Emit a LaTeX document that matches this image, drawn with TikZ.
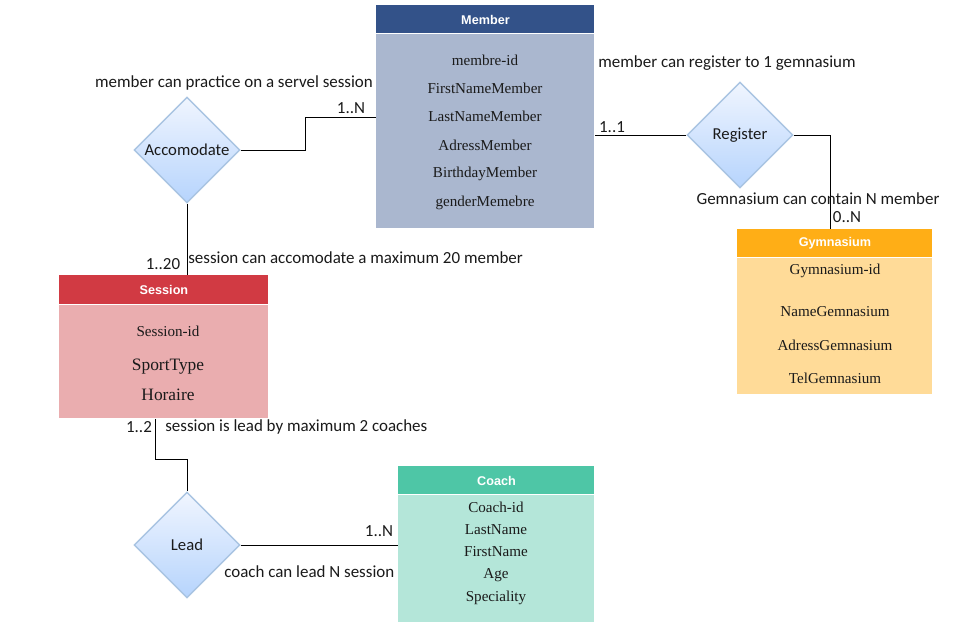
\documentclass[tikz,border=0pt]{standalone}
\usepackage{fontspec}
\setmainfont{Liberation Serif}
\newfontfamily\calibri{Carlito}
\newfontfamily\arial{Liberation Sans}
\usetikzlibrary{shapes.geometric,positioning,calc}

\definecolor{memberhead}{HTML}{335289}
\definecolor{memberbody}{HTML}{AAB7CF}
\definecolor{gymhead}{HTML}{FFAE16}
\definecolor{gymbody}{HTML}{FFDB98}
\definecolor{sessionhead}{HTML}{D13A43}
\definecolor{sessionbody}{HTML}{EAADAF}
\definecolor{coachhead}{HTML}{4EC6A6}
\definecolor{coachbody}{HTML}{B4E6D9}
\definecolor{relborder}{HTML}{A9C4E2}
\definecolor{reltop}{HTML}{F0F5FE}
\definecolor{relbottom}{HTML}{B6D4FD}
\definecolor{ink}{HTML}{1A1A1A}

\begin{document}
\begin{tikzpicture}[x=0.02cm,y=-0.02cm,line width=0.55pt,text=ink,
    head/.style={anchor=north west,inner sep=0,text=white,font=\arial\bfseries\fontsize{7.2}{8}\selectfont},
    body/.style={inner sep=0},
    attr/.style={font=\fontsize{8.6}{10}\selectfont},
    rel/.style={diamond,draw=relborder,line width=0.8pt,top color=reltop,bottom color=relbottom,minimum width=2.12cm,minimum height=2.12cm,inner sep=0,font=\calibri\fontsize{9.5}{11}\selectfont},
    lbl/.style={font=\calibri\fontsize{9.65}{11}\selectfont}]
    \useasboundingbox (0,0) rectangle (960,635);

    % Member
    \node[head,fill=memberhead,minimum width=4.36cm,minimum height=0.56cm] (memh) at (376,5) {Member};
    \node[body,fill=memberbody,minimum width=4.36cm,minimum height=3.88cm,below=0pt of memh] (mem) {};
    \node[attr] (m1) at (485,60) {membre-id};
    \node[attr] (m2) at (485,88) {FirstNameMember};
    \node[attr] (m3) at (485,116) {LastNameMember};
    \node[attr] (m4) at (485,145) {AdressMember};
    \node[attr] (m5) at (485,174) {BirthdayMember};
    \node[attr] (m6) at (485,203) {genderMemebre};

    % Gymnasium
    \node[head,fill=gymhead,minimum width=3.9cm,minimum height=0.56cm] (gymh) at (737,229) {Gymnasium};
    \node[body,fill=gymbody,minimum width=3.9cm,minimum height=2.72cm,below=0pt of gymh] (gym) {};
    \node[attr] (g1) at (835,271) {Gymnasium-id};
    \node[attr] (g2) at (835,312) {NameGemnasium};
    \node[attr] (g3) at (835,345) {AdressGemnasium};
    \node[attr] (g4) at (835,378) {TelGemnasium};

    % Session
    \node[head,fill=sessionhead,minimum width=4.18cm,minimum height=0.58cm] (sesh) at (59,275) {Session};
    \node[body,fill=sessionbody,minimum width=4.18cm,minimum height=2.26cm,below=0pt of sesh] (ses) {};
    \node[attr] (s1) at (168,331) {Session-id};
    \node[attr,font=\fontsize{9.9}{11}\selectfont] (s2) at (168,367) {SportType};
    \node[attr,font=\fontsize{9.9}{11}\selectfont] (s3) at (168,395) {Horaire};

    % Coach
    \node[head,fill=coachhead,minimum width=3.92cm,minimum height=0.56cm] (coah) at (398,466) {Coach};
    \node[body,fill=coachbody,minimum width=3.92cm,minimum height=2.54cm,below=0pt of coah] (coa) {};
    \node[attr] (c1) at (496,507) {Coach-id};
    \node[attr] (c2) at (496,530) {LastName};
    \node[attr] (c3) at (496,552) {FirstName};
    \node[attr] (c4) at (496,575) {Age};
    \node[attr] (c5) at (496,598) {Speciality};

    % relations
    \node[rel] (acc) at (187,150) {Accomodate};
    \node[rel] (reg) at (740,135) {Register};
    \node[rel] (lead) at (187,545) {Lead};

    \draw (acc.east) -- ++(65,0) |- ($(mem.north west)+(0,84)$);
    \draw (acc.south) -- (acc.south |- sesh.north);
    \draw (reg.west) -- (mem.east |- reg.west);
    \draw (reg.east) -| ([xshift=-2.5pt]gymh.north);
    \draw ([xshift=-4.8pt]ses.south) |- ($(lead.north)+(0,-32)$) -- (lead.north);
    \draw (lead.east) -- (coa.west |- lead.east);

    % labels
    \node[lbl] (t1) at (234,83) {member can practice on a servel session};
    \node[lbl] (n1) at (351,108) {1..N};
    \node[lbl] (t2) at (727,63) {member can register to 1 gemnasium};
    \node[lbl] (n2) at (612,127) {1..1};
    \node[lbl] (t3) at (818,199) {Gemnasium can contain N member};
    \node[lbl] (n3) at (847,217) {0..N};
    \node[lbl] (n4) at (163,264) {1..20};
    \node[lbl,anchor=west] (t4) at (182,258) {session can accomodate a maximum 20 member};
    \node[lbl] (n5) at (139,427) {1..2};
    \node[lbl,anchor=west] (t5) at (159,427) {session is lead by maximum 2 coaches};
    \node[lbl] (n6) at (379,531) {1..N};
    \node[lbl,anchor=west] (t6) at (218,572) {coach can lead N session};
\end{tikzpicture}
\end{document}
